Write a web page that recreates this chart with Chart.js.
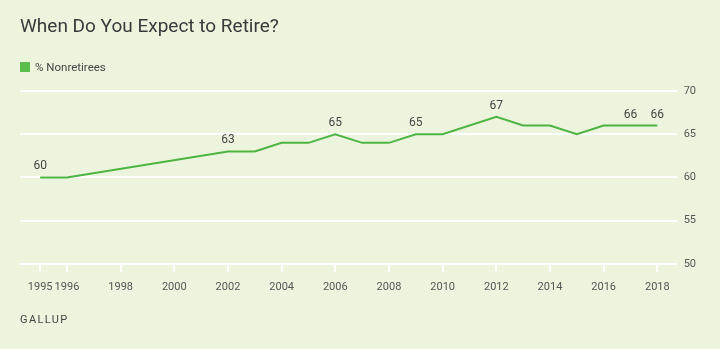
<!DOCTYPE html>
<html>
<head>
    <title>When Do You Expect to Retire?</title>
    <script src="https://cdn.jsdelivr.net/npm/chart.js"></script>
    <style>
        body { margin: 0; background: #edf4de; font-family: Roboto, sans-serif; }
        #wrap { position: relative; width: 720px; height: 349px; }
        #title { position: absolute; left: 20px; top: 14px; font-size: 19px; color: #3a3a3a; }
        #legend { position: absolute; left: 20px; top: 60px; font-size: 11.5px; color: #444; }
        #legend span { display: inline-block; width: 10px; height: 10px; background: #5bbd4b; vertical-align: -1px; margin-right: 5px; }
        #source { position: absolute; left: 20px; top: 313px; font-size: 11px; color: #444; letter-spacing: 1.4px; }
        canvas { position: absolute; left: 0; top: 0; }
    </style>
</head>
<body>
<div id="wrap">
    <canvas id="myChart" width="720" height="349"></canvas>
    <div id="title">When Do You Expect to Retire?</div>
    <div id="legend"><span></span>% Nonretirees</div>
    <div id="source">GALLUP</div>
</div>
<script>
    const years = [1995, 1996, 2002, 2003, 2004, 2005, 2006, 2007, 2008, 2009, 2010, 2012, 2013, 2014, 2015, 2016, 2017, 2018];
    const nonretirees = [60, 60, 63, 63, 64, 64, 65, 64, 64, 65, 65, 67, 66, 66, 65, 66, 66, 66];
    const labeledYears = [1995, 2002, 2006, 2009, 2012, 2017, 2018];
    const xTicks = [1995, 1996, 1998, 2000, 2002, 2004, 2006, 2008, 2010, 2012, 2014, 2016, 2018];
    const yTicks = [50, 55, 60, 65, 70];

    // draws the value above selected points
    const pointLabels = {
        id: 'pointLabels',
        afterDatasetsDraw(chart) {
            const c = chart.ctx;
            const meta = chart.getDatasetMeta(0);
            c.save();
            c.font = '12px Roboto, sans-serif';
            c.fillStyle = '#444';
            c.textAlign = 'center';
            c.textBaseline = 'bottom';
            meta.data.forEach((pt, i) => {
                if (labeledYears.includes(years[i])) {
                    c.fillText(nonretirees[i], pt.x, pt.y - 5);
                }
            });
            c.restore();
        }
    };

    const ctx = document.getElementById('myChart').getContext('2d');
    const myChart = new Chart(ctx, {
        type: 'line',
        data: {
            datasets: [{
                label: '% Nonretirees',
                data: years.map((y, i) => ({ x: y, y: nonretirees[i] })),
                borderColor: '#4cb542',
                borderWidth: 2,
                pointRadius: 0,
                tension: 0
            }]
        },
        options: {
            responsive: false,
            animation: false,
            layout: { padding: { left: 20, top: 91, right: 17, bottom: 46 } },
            plugins: { legend: { display: false }, tooltip: { enabled: false } },
            scales: {
                x: {
                    type: 'linear',
                    min: 1994.25,
                    max: 2018.72,
                    afterBuildTicks: (axis) => { axis.ticks = xTicks.map(v => ({ value: v })); },
                    grid: { drawOnChartArea: false, color: '#ffffff', lineWidth: 2, tickLength: 8 },
                    border: { display: false },
                    ticks: {
                        autoSkip: false,
                        maxRotation: 0,
                        padding: 9,
                        color: '#555',
                        font: { family: 'Roboto', size: 11 },
                        callback: (v) => String(v)
                    }
                },
                y: {
                    position: 'right',
                    min: 50,
                    max: 70,
                    afterBuildTicks: (axis) => { axis.ticks = yTicks.map(v => ({ value: v })); },
                    grid: { color: '#ffffff', lineWidth: 2, drawTicks: false },
                    border: { display: false },
                    ticks: {
                        padding: 7,
                        color: '#555',
                        font: { family: 'Roboto', size: 11 }
                    }
                }
            }
        },
        plugins: [pointLabels]
    });
</script>
</body>
</html>
